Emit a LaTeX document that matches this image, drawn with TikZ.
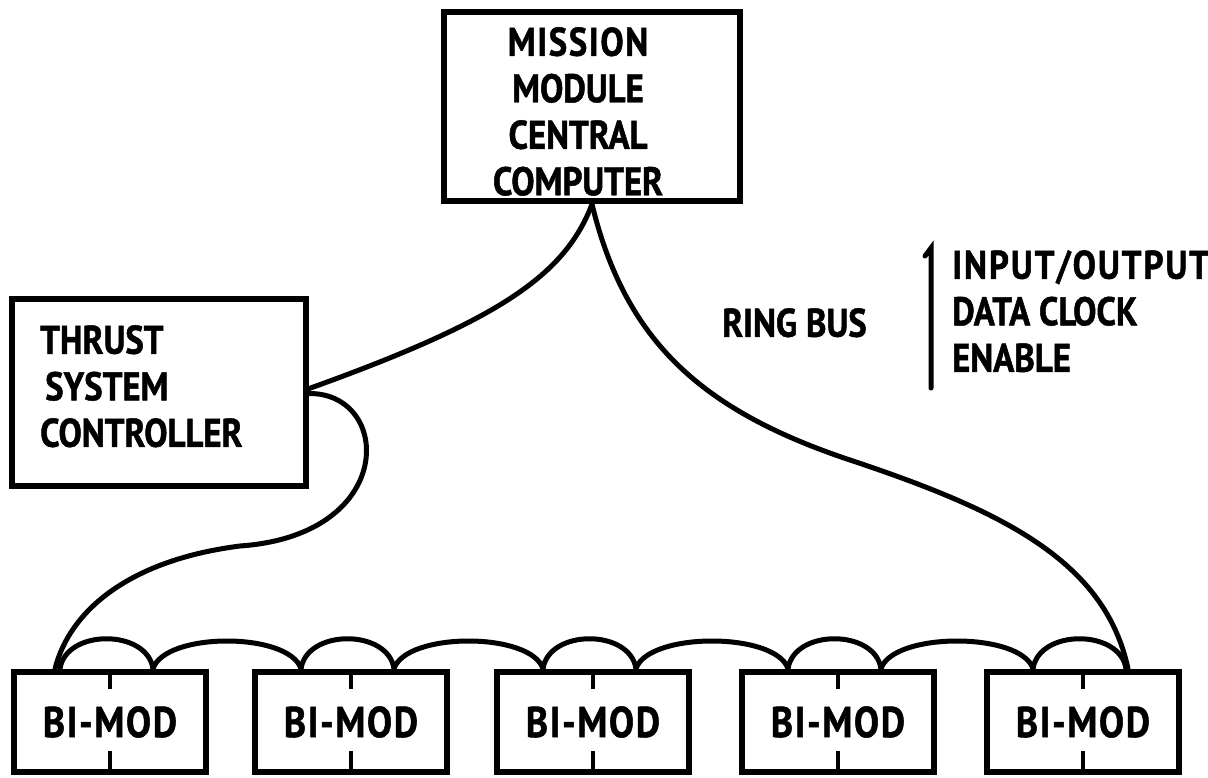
\documentclass[tikz,border=0pt]{standalone}
\usepackage{fontspec}
\newfontfamily\lettering{PT Sans}[FakeStretch=0.87,FakeBold=1.2]
\begin{document}
\begin{tikzpicture}[x=1pt,y=-1pt,
  box/.style={draw, line width=6.5pt, inner sep=0pt},
  wire/.style={line width=5pt, line cap=round},
  tickmark/.style={line width=4.5pt},
  lbl/.style={font=\lettering\bfseries\fontsize{40}{46.5}\selectfont, inner sep=0pt},
  modbox/.style={box, minimum width=192pt, minimum height=100pt,
    font=\lettering\bfseries\fontsize{43}{50}\selectfont\addfontfeatures{LetterSpace=4}}
]
\useasboundingbox (0,0) rectangle (1208,778);

% main boxes
\node[box, minimum width=296pt, minimum height=189pt] (mmcc) at (592,106.5) {};
\node[lbl, align=center, anchor=north] (mmcctext) at (578,27)
  {\addfontfeatures{LetterSpace=4}MISSION\\MODULE\\CENTRAL\\COMPUTER};

\node[box, minimum width=294pt, minimum height=187pt] (thrust) at (159,392.5) {};
\node[lbl, align=left, anchor=north west] (thrusttext) at (40,325)
  {THRUST\\\hspace*{5pt}SYSTEM\\CONTROLLER};

% bus legend
\node[lbl, anchor=north west] (ringbus) at (722,308) {RING BUS};
\draw[line width=5pt, line cap=round] (925,256) -- (931,248) -- (931,388);
\node[lbl, align=left, anchor=north west] (signals) at (952,250)
  {\addfontfeatures{LetterSpace=5}INPUT/OUTPUT\\DATA CLOCK\\ENABLE};

% bus interface modules
\node[modbox] (b1) at (110,722) {BI-MOD};
\node[modbox] (b2) at (351,722) {BI-MOD};
\node[modbox] (b3) at (593,722) {BI-MOD};
\node[modbox] (b4) at (838,722) {BI-MOD};
\node[modbox] (b5) at (1083,722) {BI-MOD};

\foreach \i in {1,...,5} {
  \draw[tickmark] (b\i.north) -- ++(0,20);
  \draw[tickmark] (b\i.south) -- ++(0,-24);
  % loop over the module
  \draw[wire] ([xshift=-50pt]b\i.north) .. controls +(6,-40) and +(-6,-40) .. ([xshift=43pt]b\i.north);
}
% ring links between neighbouring modules
\foreach \i/\j in {1/2,2/3,3/4,4/5} {
  \draw[wire] ([xshift=43pt]b\i.north) .. controls +(12,-37) and +(-12,-37) .. ([xshift=-50pt]b\j.north);
}

% ring bus cabling
\draw[wire] (mmcc.south) .. controls (565,275) and (500,320) .. ([yshift=4pt]thrust.east);
\draw[wire] ([yshift=-1pt]thrust.east) .. controls (392,393) and (398,535) .. (240,546)
  .. controls (130,560) and (70,610) .. ([xshift=-55pt]b1.north);
\draw[wire] (mmcc.south) .. controls (625,340) and (700,410) .. (850,460)
  .. controls (1000,510) and (1105,560) .. ([xshift=45pt]b5.north);
\end{tikzpicture}
\end{document}
